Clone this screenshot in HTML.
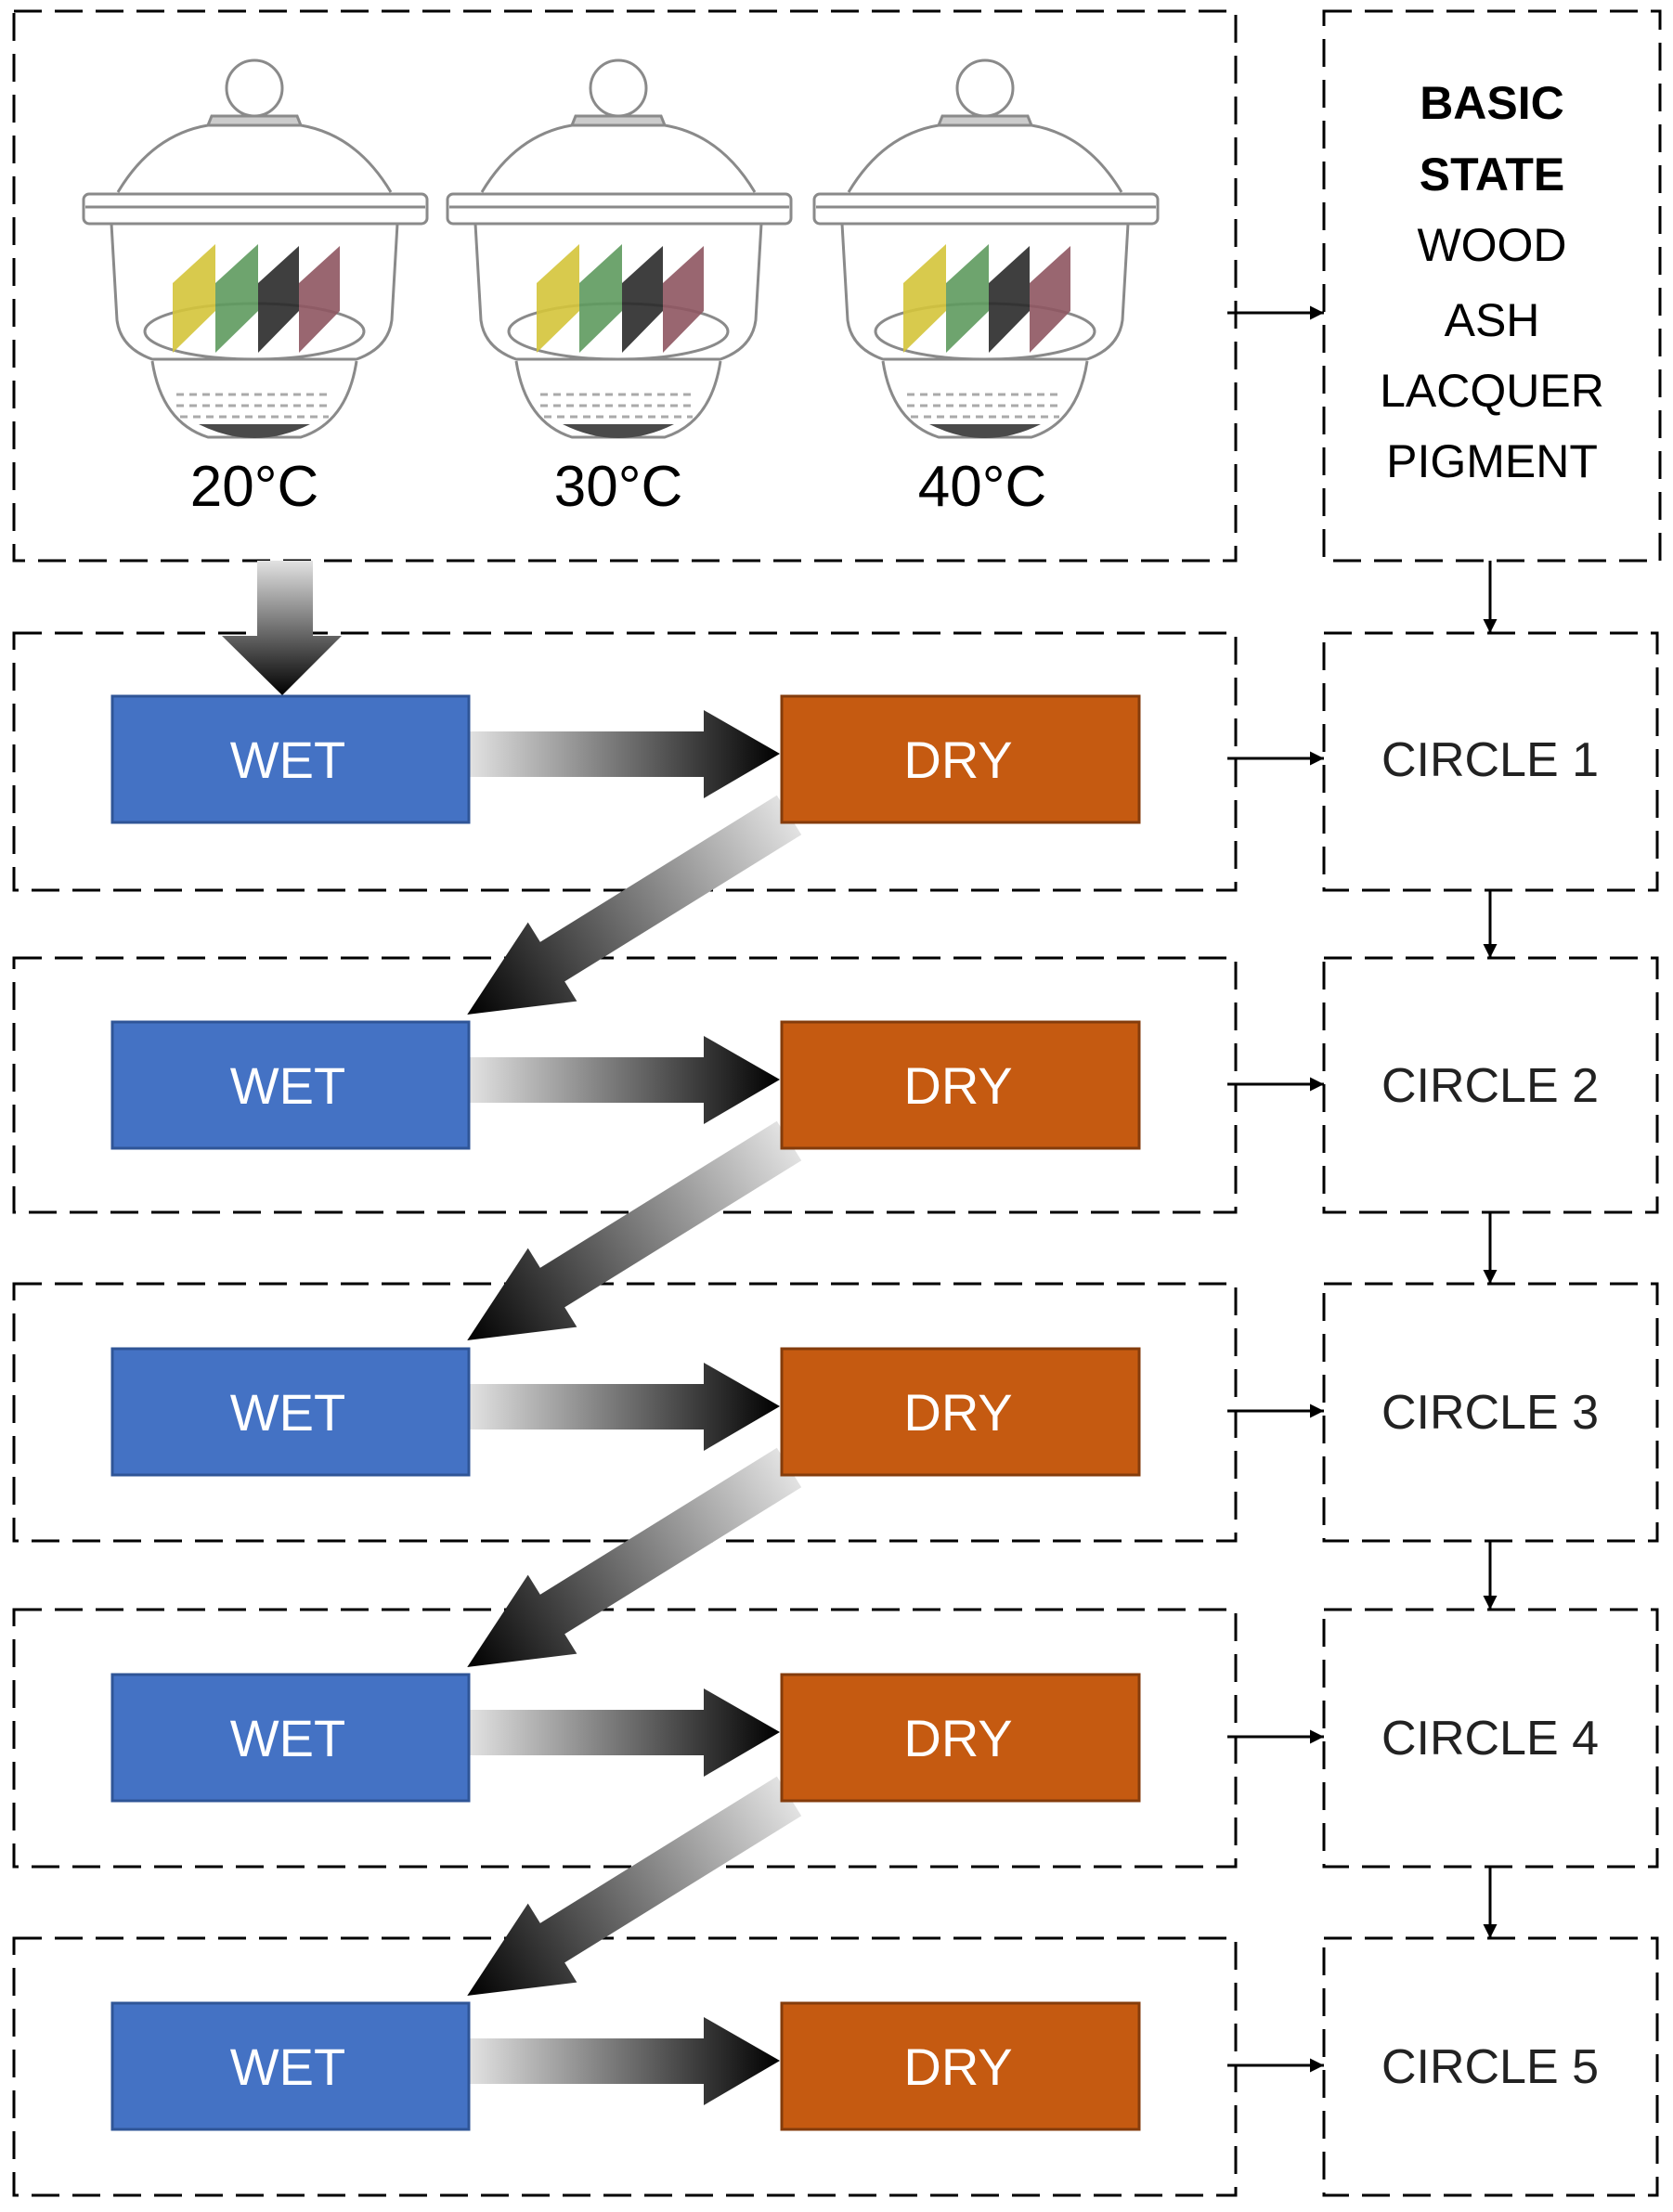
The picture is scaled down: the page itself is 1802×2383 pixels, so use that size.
<!DOCTYPE html>
<html><head><meta charset="utf-8"><style>html,body{margin:0;padding:0;background:#fff}svg{display:block}</style></head><body>
<svg width="1802" height="2383" viewBox="0 0 1802 2383" xmlns="http://www.w3.org/2000/svg" font-family="Liberation Sans, DejaVu Sans, sans-serif">
<defs>
<linearGradient id="gh" x1="505" y1="0" x2="840" y2="0" gradientUnits="userSpaceOnUse"><stop offset="0" stop-color="#e2e2e2"/><stop offset="1" stop-color="#000"/></linearGradient>
<linearGradient id="gd" x1="0" y1="0" x2="408" y2="0" gradientUnits="userSpaceOnUse"><stop offset="0" stop-color="#e2e2e2"/><stop offset="1" stop-color="#000"/></linearGradient>
<linearGradient id="gv" x1="0" y1="604" x2="0" y2="749" gradientUnits="userSpaceOnUse"><stop offset="0" stop-color="#e2e2e2"/><stop offset="1" stop-color="#000"/></linearGradient>
<marker id="ah" viewBox="0 0 10 10" refX="10" refY="5" markerWidth="5" markerHeight="5" orient="auto"><path d="M0,0L10,5L0,10z" fill="#000"/></marker>
<g id="harr"><rect x="505" y="39" width="255" height="49" fill="url(#gh)"/><polygon points="758,16 840,63 758,111" fill="url(#gh)"/></g>
<g id="darr"><rect x="0" y="-25" width="302" height="50" fill="url(#gd)"/><polygon points="300,-50 408,0 300,50" fill="url(#gd)"/></g>
<g id="des" fill="none" stroke="#8a8a8a" stroke-width="3">
<circle cx="0" cy="-180" r="30"/>
<path d="M-46,-150 L46,-150 L50,-140 L-50,-140 Z" fill="#ccc"/>
<path d="M-147,-68 Q-110,-130 -50,-140 M147,-68 Q110,-130 50,-140"/>
<rect x="-184" y="-66" width="370" height="32" rx="6"/>
<line x1="-182" y1="-52" x2="184" y2="-52"/>
<path d="M-154,-34 L-148,70 Q-144,100 -110,112 L110,112 Q144,100 148,70 L154,-34"/>
<ellipse cx="0" cy="82" rx="118" ry="30"/>
<path d="M-110,114 Q-100,180 -50,196 L50,196 Q100,180 110,114"/>
<path d="M-84,150 L84,150 M-84,162 L84,162 M-80,174 L80,174" stroke-dasharray="8 6" stroke="#aaa"/>
<path d="M-60,182 Q0,212 60,182 Z" fill="#4a4a4a" stroke="none"/>
<polygon points="-88,105 -88,30 -42,-12 -42,60" fill="#d4c43a" stroke="none" opacity="0.9"/>
<polygon points="-42,105 -42,30 4,-12 4,60" fill="#5e9a5e" stroke="none" opacity="0.9"/>
<polygon points="4,105 4,30 48,-10 48,60" fill="#2a2a2a" stroke="none" opacity="0.9"/>
<polygon points="48,105 48,30 92,-10 92,60" fill="#8e5560" stroke="none" opacity="0.9"/>
</g>
</defs>
<g fill="none" stroke="#000" stroke-width="3" stroke-dasharray="30 14">
<rect x="15" y="12" width="1316" height="592"/>
<rect x="1426" y="12" width="362" height="592"/>
<rect x="15" y="682" width="1316" height="277"/>
<rect x="15" y="1032" width="1316" height="274"/>
<rect x="15" y="1383" width="1316" height="277"/>
<rect x="15" y="1734" width="1316" height="277"/>
<rect x="15" y="2088" width="1316" height="277"/>
<rect x="1426" y="682" width="359" height="277"/>
<rect x="1426" y="1032" width="359" height="274"/>
<rect x="1426" y="1383" width="359" height="277"/>
<rect x="1426" y="1734" width="359" height="277"/>
<rect x="1426" y="2088" width="359" height="277"/>
</g>
<use href="#des" x="274" y="275"/><use href="#des" x="666" y="275"/><use href="#des" x="1061" y="275"/>
<g font-size="62" text-anchor="middle" fill="#000"><text x="274" y="545">20°C</text><text x="666" y="545">30°C</text><text x="1058" y="545">40°C</text></g>
<g font-size="50" text-anchor="middle" fill="#000">
<text x="1607" y="128" font-weight="bold">BASIC</text><text x="1607" y="205" font-weight="bold">STATE</text>
<text x="1607" y="281">WOOD</text><text x="1607" y="362">ASH</text><text x="1607" y="438">LACQUER</text><text x="1607" y="514">PIGMENT</text>
</g>
<rect x="277" y="604" width="60" height="82" fill="url(#gv)"/><polygon points="239,685 368,685 304,749" fill="url(#gv)"/>
<g stroke="#000" stroke-width="3" marker-end="url(#ah)">
<line x1="1322" y1="337" x2="1426" y2="337"/>
<line x1="1322" y1="817" x2="1426" y2="817"/><line x1="1322" y1="1168" x2="1426" y2="1168"/><line x1="1322" y1="1520" x2="1426" y2="1520"/><line x1="1322" y1="1871" x2="1426" y2="1871"/><line x1="1322" y1="2225" x2="1426" y2="2225"/>
<line x1="1605" y1="604" x2="1605" y2="682"/><line x1="1605" y1="959" x2="1605" y2="1032"/><line x1="1605" y1="1306" x2="1605" y2="1383"/><line x1="1605" y1="1660" x2="1605" y2="1734"/><line x1="1605" y1="2011" x2="1605" y2="2088"/>
</g>
<g font-size="52" text-anchor="middle" fill="#222">
<text x="1605" y="836">CIRCLE 1</text><text x="1605" y="1187">CIRCLE 2</text><text x="1605" y="1539">CIRCLE 3</text><text x="1605" y="1890">CIRCLE 4</text><text x="1605" y="2244">CIRCLE 5</text>
</g>
<g>
<g transform="translate(0,749)"><use href="#harr"/></g>
<g transform="translate(0,1100)"><use href="#harr"/></g>
<g transform="translate(0,1452)"><use href="#harr"/></g>
<g transform="translate(0,1803)"><use href="#harr"/></g>
<g transform="translate(0,2157)"><use href="#harr"/></g>
<use href="#darr" transform="translate(850,878) rotate(148.2)"/>
<use href="#darr" transform="translate(850,1229) rotate(148.2)"/>
<use href="#darr" transform="translate(850,1581) rotate(148.2)"/>
<use href="#darr" transform="translate(850,1935) rotate(148.2)"/>
</g>
<g stroke-width="3">
<rect x="121" y="750" width="384" height="136" fill="#4472c4" stroke="#2f5597"/><rect x="842" y="750" width="385" height="136" fill="#c55a11" stroke="#843c0c"/>
<rect x="121" y="1101" width="384" height="136" fill="#4472c4" stroke="#2f5597"/><rect x="842" y="1101" width="385" height="136" fill="#c55a11" stroke="#843c0c"/>
<rect x="121" y="1453" width="384" height="136" fill="#4472c4" stroke="#2f5597"/><rect x="842" y="1453" width="385" height="136" fill="#c55a11" stroke="#843c0c"/>
<rect x="121" y="1804" width="384" height="136" fill="#4472c4" stroke="#2f5597"/><rect x="842" y="1804" width="385" height="136" fill="#c55a11" stroke="#843c0c"/>
<rect x="121" y="2158" width="384" height="136" fill="#4472c4" stroke="#2f5597"/><rect x="842" y="2158" width="385" height="136" fill="#c55a11" stroke="#843c0c"/>
</g>
<g font-size="56" text-anchor="middle" fill="#fff">
<text x="310" y="838">WET</text><text x="1032" y="838">DRY</text>
<text x="310" y="1189">WET</text><text x="1032" y="1189">DRY</text>
<text x="310" y="1541">WET</text><text x="1032" y="1541">DRY</text>
<text x="310" y="1892">WET</text><text x="1032" y="1892">DRY</text>
<text x="310" y="2246">WET</text><text x="1032" y="2246">DRY</text>
</g>
</svg>
</body></html>
